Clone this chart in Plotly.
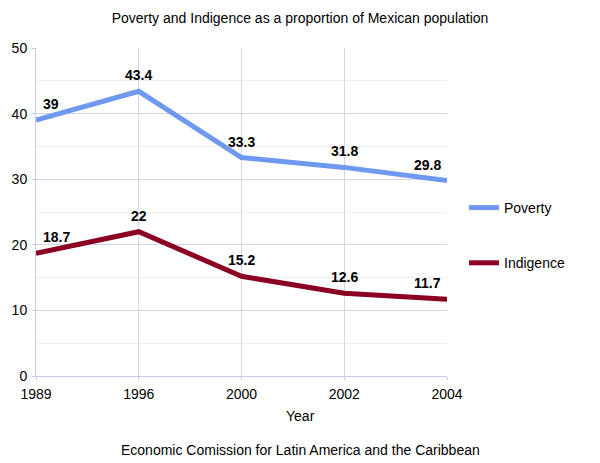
import plotly.graph_objects as go

years = ["1989", "1996", "2000", "2002", "2004"]
poverty = [39, 43.4, 33.3, 31.8, 29.8]
indigence = [18.7, 22, 15.2, 12.6, 11.7]

FONT = "Liberation Sans, Arial, sans-serif"
L, R, T, B = 36, 153, 48, 87
PW, PH = 600 - L - R, 463 - T - B

fig = go.Figure()
fig.add_trace(go.Scatter(x=years, y=poverty, name="Poverty", mode="lines",
                         line=dict(color="#6f98f0", width=5), legendgroup="p"))
fig.add_trace(go.Scatter(x=years, y=indigence, name="Indigence", mode="lines",
                         line=dict(color="#8b0022", width=5), legendgroup="i"))

# value labels above each point (x given as category index)
anchors = ["left", "center", "center", "center", "right"]
shifts = [5, 0, 0, 0, -4]
labels = []
for series in (poverty, indigence):
    for i, v in enumerate(series):
        labels.append(dict(
            x=i, y=v, text=str(v), showarrow=False,
            xanchor=anchors[i], xshift=shifts[i], yanchor="middle", yshift=16,
            font=dict(size=14, color="black", weight="bold"),
        ))

labels.append(dict(text="Year", xref="paper", yref="paper",
                   x=(300 - L) / PW, y=-(416 - (T + PH)) / PH,
                   showarrow=False, yanchor="middle", font=dict(size=14)))
labels.append(dict(text="Economic Comission for Latin America and the Caribbean",
                   xref="paper", yref="paper",
                   x=(300 - L) / PW, y=-(450 - (T + PH)) / PH,
                   showarrow=False, yanchor="middle", font=dict(size=14)))

fig.update_layout(
    width=600, height=463,
    margin=dict(l=L, r=R, t=T, b=B),
    paper_bgcolor="white", plot_bgcolor="white",
    font=dict(family=FONT, size=14, color="black"),
    title=dict(text="Poverty and Indigence as a proportion of Mexican population",
               x=0.5, xref="container", xanchor="center",
               y=1 - 18 / 463, yref="container", yanchor="middle",
               font=dict(size=14)),
    legend=dict(x=(464 - L) / PW, y=(T + PH - 235.5) / PH, yanchor="middle",
                xanchor="left", tracegroupgap=34, font=dict(size=14)),
    annotations=labels,
)

fig.update_xaxes(
    type="category", range=[0, 4], automargin=False,
    showgrid=True, gridcolor="#d4d4ec", showline=True, linecolor="#c8c8e8",
    ticks="outside", ticklen=3, tickcolor="#c8c8e8", ticklabelstandoff=2,
    zeroline=False,
)
fig.update_yaxes(
    range=[0, 50], dtick=10, automargin=False, showgrid=True, gridcolor="#d4d4ec",
    minor=dict(dtick=5, showgrid=True, gridcolor="#efefef"),
    showline=True, linecolor="#c8c8e8",
    ticks="outside", ticklen=3, tickcolor="#c8c8e8", ticklabelstandoff=2,
    zeroline=False,
)

# the page's default body margin would push the chart 8px off
fig.write_html("out.html", config={"displayModeBar": False},
               post_script="document.body.style.margin = '0';")
